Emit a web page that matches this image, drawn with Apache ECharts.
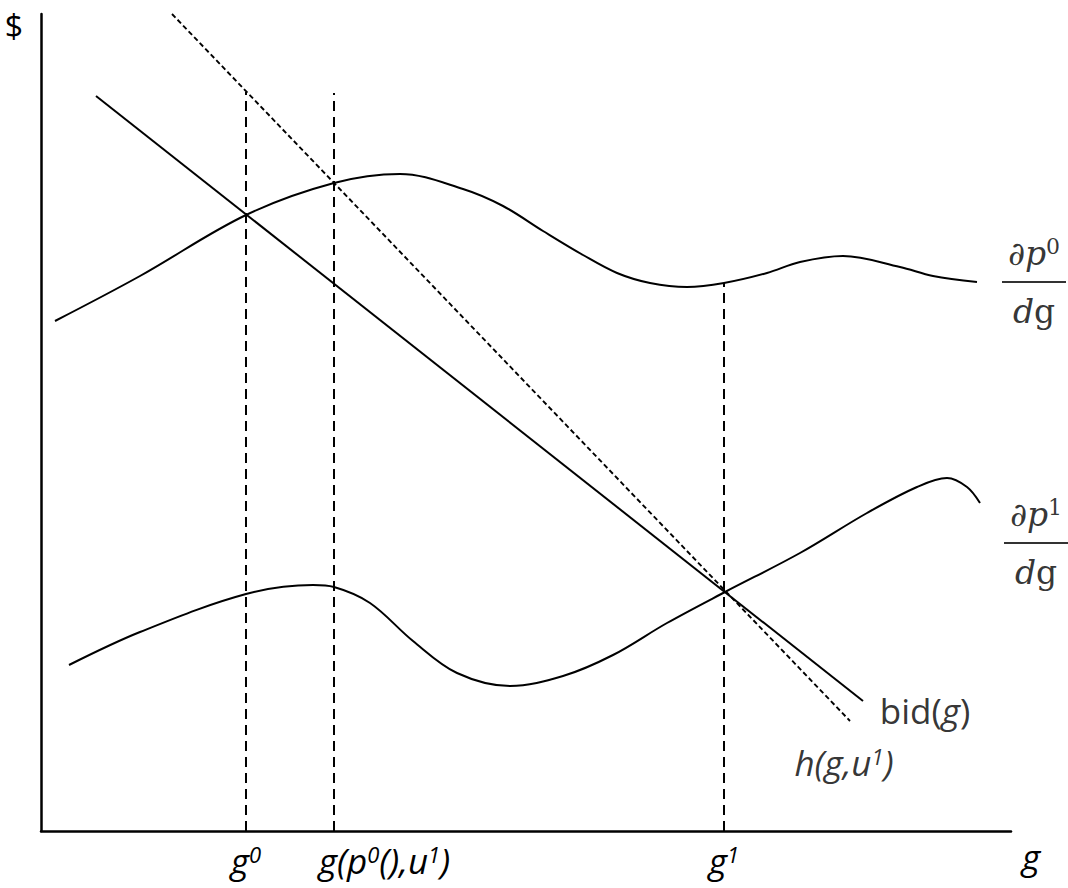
<!DOCTYPE html>
<html>
<head>
<meta charset="utf-8">
<title>bid(g)</title>
<script src="https://cdn.jsdelivr.net/npm/echarts@6/dist/echarts.min.js"></script>
<style>
html, body { margin: 0; padding: 0; background: #fff; }
#chart { width: 1068px; height: 888px; }
</style>
</head>
<body>
<div id="chart"></div>
<script>
// dp0/dg curve (g, $)
const p0G = [14, 99, 205, 293, 359, 422, 462, 502, 542, 576, 609, 646, 683, 726, 759, 802, 859, 892, 936];
const p0Val = [510, 555, 616, 648, 657, 642, 625, 600, 576, 558, 548, 544, 548, 558, 569, 575, 564, 555, 549];
// dp1/dg curve
const p1G = [28, 99, 205, 272, 293, 329, 372, 416, 469, 522, 572, 626, 684, 759, 826, 876, 906, 926, 939];
const p1Val = [166, 199, 237, 246, 244, 228, 190, 158, 145, 155, 176, 208, 239, 278, 318, 344, 353, 344, 328];
// bid(g) and h(g,u1), straight lines from their two ends
const bidG = [55, 822];
const bidVal = [735, 130];
const hG = [131, 809];
const hVal = [817, 110];
// dashed guides at g0, g(p0(),u1), g1 and how high they go
const guideG = [205, 293, 683];
const guideTop = [739, 738, 548];
const tickLabels = ['g⁰', 'g(p⁰(),u¹)', 'g¹'];

const sans = 'Open Sans';
const serif = 'DejaVu Serif';

// turn ⁰ ¹ into small raised rich tokens
function richify(s, base) {
  return s.replace(/([⁰¹]+)|([^⁰¹]+)/g, function (m, sup, txt) {
    if (sup) return '{' + base + 's|' + sup.replace(/⁰/g, '0').replace(/¹/g, '1') + '}';
    return '{' + base + '|' + txt + '}';
  });
}

const sansRich = {
  a: { fontFamily: sans, fontStyle: 'italic', fontSize: 35, lineHeight: 40, color: '#000' },
  as: { fontFamily: sans, fontStyle: 'italic', fontSize: 22, height: 28, verticalAlign: 'top', color: '#000' },
  u: { fontFamily: sans, fontSize: 35, lineHeight: 40, color: '#000' },
  pad: { width: 101 }
};

const fracRich = {
  f: { fontFamily: serif, fontStyle: 'italic', fontSize: 33, lineHeight: 52, align: 'center', color: '#000' },
  fs: { fontFamily: serif, fontSize: 22, height: 38, verticalAlign: 'top', align: 'center', color: '#000' },
  fu: { fontFamily: serif, fontSize: 33, lineHeight: 52, align: 'center', color: '#000' },
  bar: { width: 64, height: 2, lineHeight: 6, backgroundColor: '#000', align: 'center' }
};

function lineData(xs, ys) {
  return xs.map(function (x, i) { return [x, ys[i]]; });
}

function textPoint(x, y, text, rich, off) {
  return {
    value: [x, y],
    label: { show: true, position: 'inside', offset: off, align: 'center', verticalAlign: 'middle', formatter: text, rich: rich }
  };
}

const series = [
  { type: 'line', data: lineData(p0G, p0Val), smooth: 0.35, showSymbol: false, lineStyle: { color: '#000', width: 2 } },
  { type: 'line', data: lineData(p1G, p1Val), smooth: 0.35, showSymbol: false, lineStyle: { color: '#000', width: 2 } },
  { type: 'line', data: lineData(bidG, bidVal), showSymbol: false, lineStyle: { color: '#000', width: 2 } },
  { type: 'line', data: lineData(hG, hVal), showSymbol: false, clip: false, lineStyle: { color: '#000', width: 1.9, type: [5, 3] } }
];

guideG.forEach(function (g, i) {
  series.push({
    type: 'line', data: [[g, 0], [g, guideTop[i]]], showSymbol: false,
    lineStyle: { color: '#000', width: 2, type: [10, 6] }
  });
});

const n0 = p0G.length - 1, n1 = p1G.length - 1;
series.push({
  type: 'scatter', symbolSize: 2, silent: true, z: 10,
  itemStyle: { color: 'rgba(0,0,0,0)' },
  data: [
    textPoint(p0G[n0], p0Val[n0], '{f|∂p}{fs|0}\n{bar|}\n{f|d}{fu|g}', fracRich, [57, 0]),
    textPoint(p1G[n1], p1Val[n1], '{f|∂p}{fs|1}\n{bar|}\n{f|d}{fu|g}', fracRich, [56, 40]),
    textPoint(bidG[1], bidVal[1], '{u|bid(}{a|g}{u|)}', sansRich, [62, 9]),
    textPoint(hG[1], hVal[1], richify('h(g,u¹)', 'a'), sansRich, [-6, 41])
  ]
});

const chart = echarts.init(document.getElementById('chart'), null, { renderer: 'svg' });
chart.setOption({
  animation: false,
  backgroundColor: '#fff',
  grid: { left: 41, right: 57, top: 14, bottom: 57, containLabel: false, outerBoundsMode: 'none' },
  xAxis: {
    type: 'value', min: 0, max: 970,
    name: '{n|g}', nameLocation: 'end', nameGap: 11,
    nameTextStyle: {
      rich: { n: { fontFamily: sans, fontStyle: 'italic', fontSize: 35, color: '#000', padding: [50, 0, 0, 0] } }
    },
    axisLine: { show: true, onZero: false, lineStyle: { color: '#000', width: 2.5 } },
    axisTick: { show: false },
    splitLine: { show: false },
    axisLabel: {
      customValues: guideG,
      margin: 9,
      formatter: function (v) {
        const i = guideG.indexOf(v);
        if (i < 0) return '';
        return (i === 1 ? '{pad|}' : '') + richify(tickLabels[i], 'a');
      },
      rich: sansRich
    }
  },
  yAxis: {
    type: 'value', min: 0, max: 817,
    name: '$', nameLocation: 'end', nameGap: -11,
    nameTextStyle: { fontFamily: sans, fontSize: 32, color: '#000', align: 'right', verticalAlign: 'middle', padding: [0, 18, 0, 0] },
    axisLine: { show: true, onZero: false, lineStyle: { color: '#000', width: 2.5 } },
    axisTick: { show: false },
    axisLabel: { show: false },
    splitLine: { show: false }
  },
  series: series
});
</script>
</body>
</html>
